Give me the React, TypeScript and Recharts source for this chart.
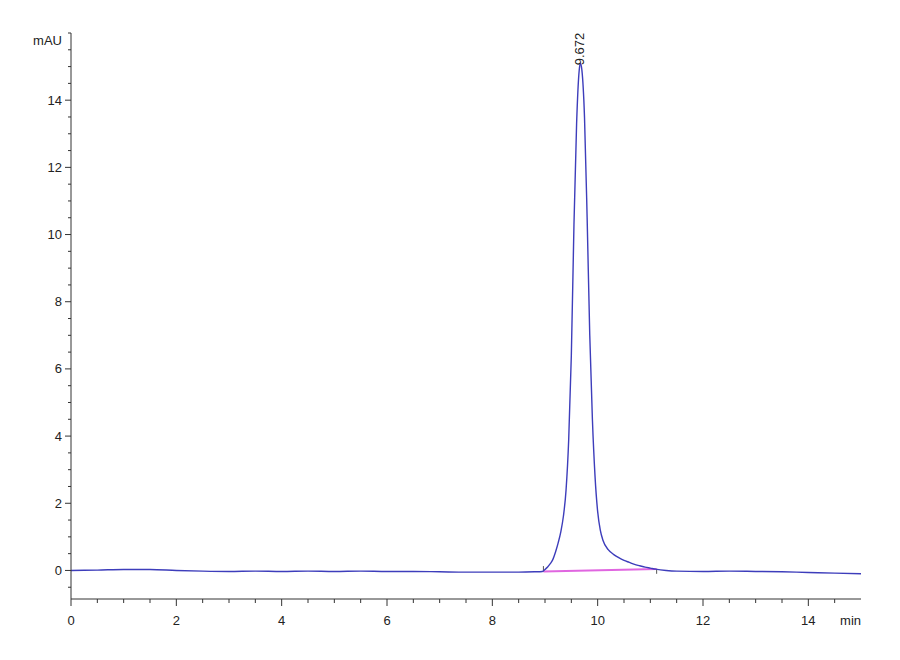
import { LineChart, Line, XAxis, YAxis, ReferenceLine, ReferenceDot } from "recharts";

// Chromatogram trace, one main peak at 9.672 min
const TIME = [
  0, 0.5, 1.0, 1.5, 2.0, 2.5, 3.0, 3.5, 4.0, 4.5, 5.0, 5.5, 6.0, 6.5, 7.0, 7.5, 8.0, 8.5, 8.8, 8.95,
  9.0, 9.05, 9.1, 9.15, 9.2, 9.25, 9.3, 9.35, 9.4, 9.45, 9.5, 9.55, 9.6, 9.65, 9.672, 9.7, 9.75,
  9.8, 9.85, 9.9, 9.95, 10.0, 10.05, 10.1, 10.2, 10.3, 10.4, 10.5, 10.6, 10.7, 10.8, 10.9, 11.0,
  11.1, 11.3, 11.5, 12.0, 12.5, 13.0, 13.5, 14.0, 14.5, 15.0,
];
const SIGNAL = [
  0.0, 0.01, 0.03, 0.03, 0.0, -0.02, -0.03, -0.02, -0.03, -0.02, -0.03, -0.02, -0.03, -0.03, -0.04,
  -0.05, -0.05, -0.05, -0.04, -0.03,
  0.03, 0.1, 0.2, 0.33, 0.55, 0.82, 1.15, 1.62, 2.4, 3.9, 6.4, 10.3, 13.3, 14.9, 15.1, 14.9, 13.5,
  10.5, 7.0, 4.5, 2.8, 1.75, 1.2, 0.9, 0.62, 0.48, 0.38, 0.3, 0.24, 0.18, 0.14, 0.1, 0.07,
  0.04, 0.0, -0.02, -0.03, -0.02, -0.03, -0.04, -0.06, -0.08, -0.1,
];

const PEAK_TIME = 9.672;
const PEAK_HEIGHT = 15.1;
const PEAK_LABEL = "9.672";
const BASE_START = [8.97, -0.03];
const BASE_END = [11.12, 0.04];

const X_TICKS = Array.from({ length: 30 }, (_, i) => i * 0.5); // 0 .. 14.5
const Y_TICKS = Array.from({ length: 34 }, (_, i) => -0.5 + i * 0.5); // -0.5 .. 16

const BLUE = "#3d3dbb";
const PINK = "#e066e0";
const AXIS = "#333333";
const FONT = "'Liberation Sans Narrow', 'Liberation Sans', Arial, sans-serif";

const data = TIME.map((t, i) => ({ t, v: SIGNAL[i] }));

const isMajor = (v: number) => Math.abs(v / 2 - Math.round(v / 2)) < 1e-6;

function YTick(props: any) {
  const { x, y, payload } = props;
  const v = payload.value as number;
  const major = isMajor(v) && v < 16;
  return (
    <g>
      <line x1={x - (major ? 6 : 3)} x2={x} y1={y} y2={y} stroke={AXIS} strokeWidth={1} />
      {major && (
        <text x={x - 9} y={y} dy={4.5} textAnchor="end" fontSize={13} fill="#222" fontFamily={FONT}>
          {v}
        </text>
      )}
    </g>
  );
}

function XTick(props: any) {
  const { x, y, payload } = props;
  const v = payload.value as number;
  const major = isMajor(v);
  return (
    <g>
      <line x1={x} x2={x} y1={y} y2={y + (major ? 7 : 4)} stroke={AXIS} strokeWidth={1} />
      {major && (
        <text x={x} y={y + 26} textAnchor="middle" fontSize={13} fill="#222" fontFamily={FONT}>
          {v}
        </text>
      )}
    </g>
  );
}

export default function App() {
  return (
    <div style={{ position: "absolute", left: 0, top: 0, width: 900, height: 660, background: "#fff" }}>
      <LineChart width={900} height={660} data={data} margin={{ top: 33, right: 39, bottom: 0, left: 0 }}>
        <XAxis
          dataKey="t"
          type="number"
          domain={[0, 15]}
          ticks={X_TICKS}
          interval={0}
          height={61}
          tickSize={0}
          tickMargin={0}
          tickLine={false}
          tick={<XTick />}
          stroke={AXIS}
          allowDataOverflow
          label={({ viewBox }: any) => (
            <text x={viewBox.x + viewBox.width} y={viewBox.y + 26} textAnchor="end" fontSize={13} fill="#222" fontFamily={FONT}>
              min
            </text>
          )}
        />
        <YAxis
          type="number"
          domain={[-0.85, 16]}
          ticks={Y_TICKS}
          interval={0}
          width={71}
          tickSize={0}
          tickMargin={0}
          tickLine={false}
          tick={<YTick />}
          stroke={AXIS}
          allowDataOverflow
          label={({ viewBox }: any) => (
            <text x={viewBox.x + viewBox.width - 9} y={viewBox.y + 12} textAnchor="end" fontSize={13} fill="#222" fontFamily={FONT}>
              mAU
            </text>
          )}
        />
        <ReferenceLine
          segment={[
            { x: BASE_START[0], y: BASE_START[1] },
            { x: BASE_END[0], y: BASE_END[1] },
          ]}
          stroke={PINK}
          strokeWidth={2}
        />
        <ReferenceLine
          segment={[
            { x: BASE_START[0], y: BASE_START[1] },
            { x: BASE_START[0], y: BASE_START[1] + 0.16 },
          ]}
          stroke="#555"
        />
        <ReferenceLine
          segment={[
            { x: BASE_END[0], y: BASE_END[1] },
            { x: BASE_END[0], y: BASE_END[1] - 0.14 },
          ]}
          stroke="#555"
        />
        <Line
          dataKey="v"
          type="monotone"
          stroke={BLUE}
          strokeWidth={1.4}
          dot={false}
          isAnimationActive={false}
        />
        <ReferenceDot
          x={PEAK_TIME}
          y={PEAK_HEIGHT}
          r={1}
          fill="none"
          stroke="none"
          label={({ viewBox }: any) => {
            const cx = viewBox.x + viewBox.width / 2 + 4;
            const cy = viewBox.y + viewBox.height / 2 + 2;
            return (
              <text
                x={cx}
                y={cy}
                transform={`rotate(-90, ${cx}, ${cy})`}
                textAnchor="start"
                fontSize={13}
                fill="#222"
                fontFamily={FONT}
              >
                {PEAK_LABEL}
              </text>
            );
          }}
        />
      </LineChart>
    </div>
  );
}
